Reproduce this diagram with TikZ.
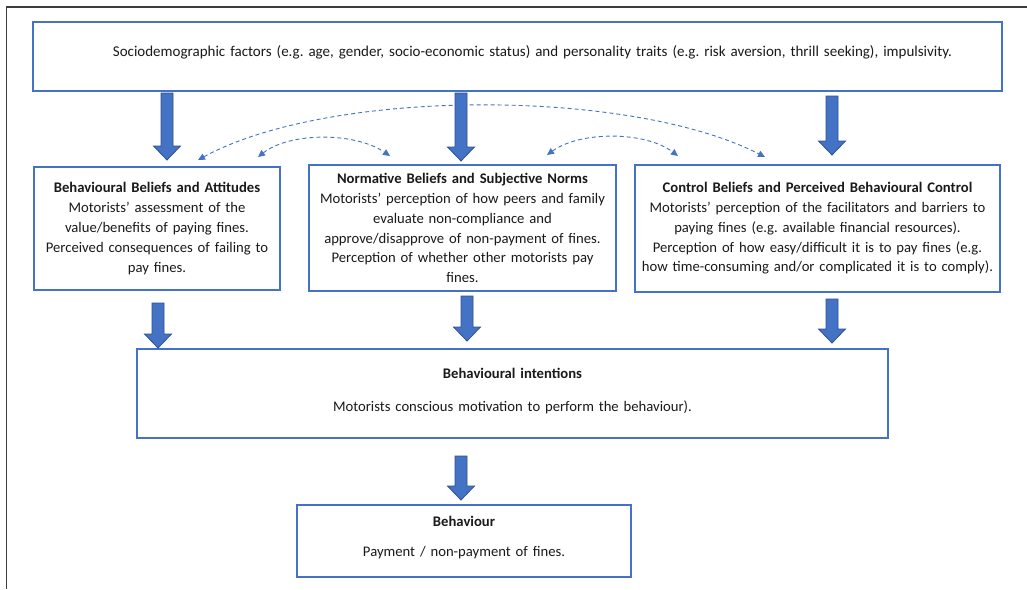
\documentclass[tikz,border=0pt]{standalone}
\usepackage{fontspec}
\setmainfont{Carlito}
\frenchspacing
\usetikzlibrary{arrows.meta}
\definecolor{boxblue}{HTML}{4472C4}
\definecolor{arrowblue}{HTML}{4472C4}
\definecolor{arrowedge}{HTML}{2F528F}
\definecolor{framegray}{HTML}{3C3C3C}
\definecolor{txt}{HTML}{1A1A1A}
\begin{document}
\begin{tikzpicture}[x=1pt,y=-1pt,
  box/.style={draw=boxblue, line width=1.1pt, fill=white, align=center, inner sep=0pt,
    text=txt, font=\fontsize{14.67}{19.8}\selectfont},
  dashlink/.style={draw=boxblue, line width=0.9pt, dash pattern=on 4pt off 3pt,
    {Triangle[length=7pt,width=6.5pt]}-{Triangle[length=7pt,width=6.5pt]}},
  pics/fatarrow/.style={code={
    \filldraw[fill=arrowblue, draw=arrowedge, line width=0.8pt]
      (-6,0) -- (6,0) -- (6,#1-14) -- (13.5,#1-14) -- (0,#1) -- (-13.5,#1-14) -- (-6,#1-14) -- cycle;}}
]
\useasboundingbox (0,0) rectangle (1027,589);
\fill[white] (0,0) rectangle (1027,589);

% outer frame (open at right and bottom)
\coordinate (frameBL) at (6.5,589);
\coordinate (frameTL) at (6.5,7);
\coordinate (frameTR) at (1027,7);
\draw[framegray, line width=1.6pt] (frameBL) -- (frameTL) -- (frameTR);

% boxes
\node[box, minimum width=969pt, minimum height=69pt, text width=965pt, font=\fontsize{15}{19.8}\selectfont] (top) at (517.5,56.5)
  {\hspace*{30pt}Sociodemographic factors (e.g. age, gender, socio-economic status) and personality traits (e.g. risk aversion, thrill seeking), impulsivity.\rule[-10.7pt]{0pt}{0pt}};

\node[box, minimum width=246pt, minimum height=123pt, text width=242pt] (bb) at (157,228.5)
  {\textbf{Behavioural Beliefs and Attitudes}\\Motorists’ assessment of the\\value/benefits of paying fines.\\Perceived consequences of failing to\\pay fines.};

\node[box, minimum width=307pt, minimum height=126pt, text width=303pt] (nb) at (462.5,228)
  {\textbf{Normative Beliefs and Subjective Norms}\\Motorists’ perception of how peers and family\\evaluate non-compliance and\\approve/disapprove of non-payment of fines.\\Perception of whether other motorists pay\\fines.};

\node[box, minimum width=365pt, minimum height=127pt, text width=361pt] (cb) at (817.5,228.5)
  {\textbf{Control Beliefs and Perceived Behavioural Control}\\Motorists’ perception of the facilitators and barriers to\\paying fines (e.g. available financial resources).\\Perception of how easy/difficult it is to pay fines (e.g.\\how time-consuming and/or complicated it is to comply).};

\node[box, minimum width=751pt, minimum height=89pt, text width=747pt] (bi) at (512.5,393.5)
  {\textbf{Behavioural intentions}\\[12.5pt]Motorists conscious motivation to perform the behaviour).\rule[-7.2pt]{0pt}{0pt}};

\node[box, minimum width=334pt, minimum height=72pt, text width=330pt] (beh) at (464,541)
  {\textbf{Behaviour}\\[10.5pt]Payment / non-payment of fines.\rule[-9.2pt]{0pt}{0pt}};

% dashed double-headed links between the belief boxes
\coordinate (dA1) at (198,160);
\coordinate (dA2) at (765,157);
\coordinate (dB1) at (258,157);
\coordinate (dB2) at (390,156);
\coordinate (dC1) at (547,155);
\coordinate (dC2) at (678,156);
\draw[dashlink] (dA1) .. controls (330,88) and (630,88) .. (dA2);
\draw[dashlink] (dB1) .. controls (290,132) and (355,132) .. (dB2);
\draw[dashlink] (dC1) .. controls (580,131) and (645,131) .. (dC2);

% thick block arrows
\pic at (167,93) {fatarrow=67};
\pic at (461,93) {fatarrow=68};
\pic at (832,96) {fatarrow=59};
\pic at (158,303) {fatarrow=45};
\pic at (467,296) {fatarrow=45};
\pic at (832,299) {fatarrow=44};
\pic at (461,456) {fatarrow=44};
\end{tikzpicture}
\end{document}
